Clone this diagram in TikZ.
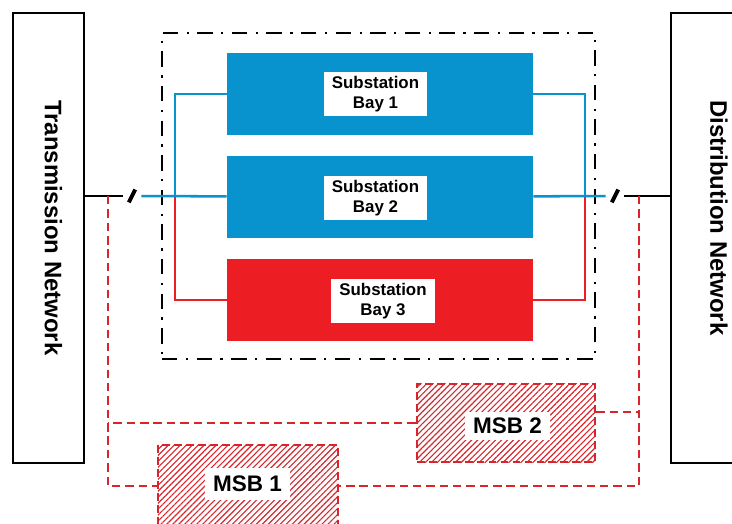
\documentclass[tikz,border=0pt]{standalone}
\usepackage{fontspec}
\setmainfont{Liberation Sans}
\usetikzlibrary{patterns.meta}
\definecolor{baybl}{RGB}{8,146,206}
\definecolor{bayrd}{RGB}{236,30,36}
\definecolor{msbrd}{RGB}{214,38,44}

\begin{document}
\begin{tikzpicture}[x=0.025cm, y=-0.025cm,
    netbox/.style={draw=black, line width=1.9pt, fill=white, minimum height=11.25cm},
    nettext/.style={rotate=-90, anchor=west, inner sep=0pt, font=\bfseries\fontsize{17}{19}\selectfont},
    zone/.style={draw=black, line width=2pt, dash pattern=on 11pt off 6pt on 1.6pt off 6pt, minimum width=10.825cm, minimum height=8.15cm},
    bay/.style={fill=#1, minimum width=7.65cm, minimum height=2.05cm},
    tag/.style={fill=white, align=center, inner sep=0pt, minimum width=2.575cm, minimum height=1.1cm, font=\bfseries\fontsize{12}{14}\selectfont},
    msb/.style={draw=msbrd, line width=1.8pt, dash pattern=on 5.5pt off 3pt, pattern={Lines[angle=45, distance=3pt, line width=0.8pt]}, pattern color=msbrd},
    msbtag/.style={fill=white, inner sep=0pt, minimum width=2.125cm, font=\bfseries\fontsize{16}{18}\selectfont},
    brk/.style={inner sep=0pt, minimum width=0.45cm, minimum height=0.45cm, path picture={\draw[line width=2.8pt] ([xshift=-0.08cm, yshift=-0.16cm]path picture bounding box.center) -- ([xshift=0.08cm, yshift=0.16cm]path picture bounding box.center);}},
    wire/.style={draw=black, line width=1.9pt},
    blueline/.style={draw=baybl, line width=1.8pt},
    redline/.style={draw=bayrd, line width=1.8pt},
    msbline/.style={draw=msbrd, line width=2pt, dash pattern=on 6pt off 3.5pt}]
  \clip (0,0) rectangle (732,524);

  \node[netbox, minimum width=1.775cm] (tn) at (48.5,238) {};
  \node[nettext] (tntext) at (53.5,100) {Transmission Network};
  \node[netbox, minimum width=2.5cm] (dn) at (721,238) {};
  \node[nettext] (dntext) at (719,100) {Distribution Network};

  \node[zone] (zone) at (378.5,196) {};
  \node[bay=baybl] (bay1) at (380,94) {};
  \node[bay=baybl] (bay2) at (380,197) {};
  \node[bay=bayrd] (bay3) at (380,300) {};
  \node[tag] (tag1) at (375.5,94) {Substation\\Bay 1};
  \node[tag] (tag2) at (375.5,198) {Substation\\Bay 2};
  \node[tag] (tag3) at (383,301) {Substation\\Bay 3};

  \node[brk] (brkL) at (132,196) {};
  \node[brk] (brkR) at (615,196) {};
  \coordinate (jL) at (175,196);
  \coordinate (jR) at (585,196);
  \coordinate (dL) at (108,196);
  \coordinate (dR) at (639,196);

  \node[msb, minimum width=4.5cm, minimum height=2.05cm] (msb1) at (248,486) {};
  \node[msb, minimum width=4.45cm, minimum height=1.95cm] (msb2) at (506,423) {};
  \node[msbtag, minimum height=0.8cm] (msbtag1) at (247.5,484) {MSB 1};
  \node[msbtag, minimum height=0.7cm] (msbtag2) at (507.5,426) {MSB 2};

  \draw[wire] (tn.east |- brkL) -- (brkL);
  \draw[wire] (brkR) -- (dn.west |- brkR);
  \draw[redline] (jL) |- (bay3.west);
  \draw[redline] (jR) |- (bay3.east);
  \draw[blueline] (brkL) -- (bay2);
  \draw[blueline] (bay2) -- (brkR);
  \draw[blueline] (bay1.west) -| (jL);
  \draw[blueline] (bay1.east) -| (jR);

  \draw[msbline] (dL) |- (msb1);
  \draw[msbline] (dR) |- (msb1);
  \draw[msbline] (msb2.west) -- (msb2.west -| dL);
  \draw[msbline] ([yshift=0.275cm]msb2.east) -- ([yshift=0.275cm]msb2.east -| dR);
\end{tikzpicture}
\end{document}
